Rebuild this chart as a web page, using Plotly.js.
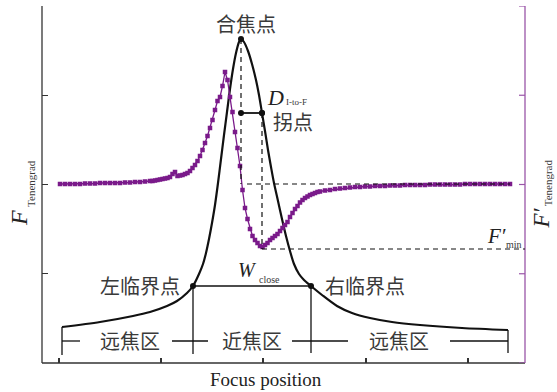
<!DOCTYPE html>
<html>
<head>
<meta charset="utf-8">
<script src="https://cdn.plot.ly/plotly-3.0.1.min.js"></script>
<style>html,body{margin:0;padding:0;background:#fff;}#chart{width:557px;height:392px;}</style>
</head>
<body>
<div id="chart"></div>
<script>
// ---- data (arbitrary units: focus position / sharpness value) ----
const xTicks = [17, 119, 221, 324, 426];
const yTicks = [0, 89.25, 178.5, 267.75, 357];

// Tenengrad sharpness curve F
const tenX = [20, 58, 91, 108, 125, 135, 145, 151, 157, 161, 164, 167, 170, 173, 176, 179, 182, 185, 188, 191, 194, 197, 199, 202, 206, 210, 214, 217, 220, 223, 226, 229, 232, 236, 240, 244, 248, 252, 257, 262, 269, 280, 295, 310, 328, 350, 378, 420, 466];
const tenY = [36, 41, 47, 51, 57, 62, 70, 77, 89, 99, 110, 124, 140, 158, 180, 204, 228, 251, 274, 294, 310, 321, 324, 321, 312, 299, 283, 268, 250, 232, 213, 196, 180, 162, 144, 127, 112, 99, 89, 83, 77, 68, 57, 50, 45, 41, 38, 35, 33];

// Derivative curve F'
const derX = [18,23,28,33,38,43,48,53,58,63,68,73,78,83,88,93,98,103,108,110.5,113,115.5,118,120.5,123,125.5,128,130.5,133,135.5,138,140.5,143,145.5,148,150.5,153,155.5,158,160.5,163,165.5,168,170.5,173,175.5,178,180.5,183,185.5,188,190.5,193,195.5,198,200.5,203,205.5,208,210.5,213,215.5,218,220.5,223,225.5,228,230.5,233,235.5,238,240.5,243,245.5,248,250.5,253,255.5,258,260.5,263,265.5,268,270.5,273,275.5,278,283,288,293,298,303,308,313,318,323,328,333,338,343,348,353,358,363,368,373,378,383,388,393,398,403,408,413,418,423,428,433,438,443,448,453,458,463,468];
const derY = [179,179,179,179,179,179.5,179.5,179.5,180,180,180,180,180,180.5,180.5,181,181,181.5,182,182,182.5,183,183.5,184,184.5,185,186,189,191,187,187.5,188,189,190,192,195,198,202,207,213,220,227,235,243,253,262,266,277,291,283,266,251,231,215,197,173,155,144,134,127,123,120,117,116,118,120,123,125,127,129,132,135,138,141,146,150,154,157,160.5,163,165,166.5,168,169,170,171,171.5,172.5,173,174,174.5,175,175.5,176,176,176.5,176.5,177,177,177,177.5,177.5,177.5,178,178,178,178,178,178.5,178.5,178.5,178.5,178.5,178.5,178.5,179,179,179,179,179,179,179,179,179,179];

// key points: left critical, focus, inflection, right critical
const keyNames = ['左临界点', '合焦点', '拐点', '右临界点'];
const keyX = [151, 199, 220, 269];
const keyY = [77, 324, 250, 77];
const zeroLevel = 179;     // F' = 0
const fMinLevel = 114;     // F'min
const zoneLabels = ['远焦区', '近焦区', '远焦区'];

// ---- styles ----
const black = '#111';
const axisCol = '#333';
const purple = '#7a1a8a';
const purpleAxis = '#9a55a8';
const cjk = '"Noto Sans CJK SC", "Noto Sans CJK JP", sans-serif';
const serif = '"Liberation Serif", "Times New Roman", serif';
const textCol = '#3a3a3a';

const [lcX, fX, iX, rcX] = keyX;
const [lcY, fY, iY, rcY] = keyY;
// D(I-to-F) segment ends: on the focus vertical and at the inflection point
const dSegX = [fX, iX];
const dSegY = [iY, iY];
const dash = {color: black, width: 1.2, dash: '5px,4px'};
const solid = {color: black, width: 1.3};
const bracketY = 22;
const tenEndL = tenX[0], tenEndR = tenX[tenX.length - 1];

const shapes = [
  // axis frame
  {type: 'line', xref: 'paper', yref: 'paper', x0: 0, x1: 0, y0: 0, y1: 1, line: {color: axisCol, width: 1.3}},
  {type: 'line', xref: 'paper', yref: 'paper', x0: 0, x1: 1, y0: 0, y1: 0, line: {color: axisCol, width: 1.3}},
  {type: 'line', xref: 'paper', yref: 'paper', x0: 1, x1: 1, y0: 0, y1: 1, line: {color: purpleAxis, width: 1.3}},
  // dashed guides
  {type: 'line', x0: fX, x1: fX, y0: fY, y1: zeroLevel, line: dash},
  {type: 'line', x0: 205, x1: tenEndR + 2, y0: zeroLevel, y1: zeroLevel, line: dash},
  {type: 'line', x0: iX, x1: iX, y0: iY, y1: fMinLevel, line: dash},
  {type: 'line', x0: iX, x1: 483, y0: fMinLevel, y1: fMinLevel, line: dash},
  // D segment
  {type: 'line', x0: dSegX[0], x1: dSegX[1], y0: dSegY[0], y1: dSegY[1], line: {color: black, width: 1.8}},
  // W close
  {type: 'line', x0: lcX, x1: rcX, y0: lcY, y1: rcY, line: solid},
  // zone boundaries
  {type: 'line', x0: lcX, x1: lcX, y0: lcY, y1: 9, line: solid},
  {type: 'line', x0: rcX, x1: rcX, y0: rcY, y1: 10, line: solid},
  {type: 'line', x0: tenEndL, x1: tenEndL, y0: tenY[0], y1: 8, line: solid},
  {type: 'line', x0: tenEndR, x1: tenEndR, y0: tenY[tenY.length - 1], y1: 10, line: solid},
  // zone segments
  {type: 'line', x0: tenEndL, x1: 38, y0: bracketY, y1: bracketY, line: solid},
  {type: 'line', x0: 130, x1: 166, y0: bracketY, y1: bracketY, line: solid},
  {type: 'line', x0: 250, x1: 306, y0: bracketY, y1: bracketY, line: solid},
  {type: 'line', x0: 408, x1: tenEndR, y0: bracketY, y1: bracketY, line: solid}
];
// right (purple) axis ticks, pointing inward
yTicks.forEach(function (t) {
  shapes.push({type: 'line', xref: 'paper', yref: 'y', x0: 1, x1: 1 - 6 / 483, y0: t, y1: t,
               line: {color: purpleAxis, width: 1.2}});
});

function ann(text, x, y, size, family, extra) {
  return Object.assign({text: text, x: x, y: y, xref: 'x', yref: 'y', showarrow: false,
    xanchor: 'center', yanchor: 'middle', font: {family: family, size: size, color: textCol}}, extra || {});
}
function pann(text, x, y, size, family, color, angle) {
  return {text: text, x: x, y: y, xref: 'paper', yref: 'paper', showarrow: false, textangle: angle || 0,
    xanchor: 'center', yanchor: 'middle', borderpad: 0, font: {family: family, size: size, color: color}};
}

const annotations = [
  ann(keyNames[1], 204, 339.5, 20, cjk),
  ann(keyNames[0], 98, 77.5, 20, cjk),
  ann(keyNames[3], 323, 77.5, 20, cjk),
  ann(keyNames[2], 251, 241.5, 20, cjk),
  ann(zoneLabels[0], 88, 23, 20, cjk),
  ann(zoneLabels[1], 210, 23, 20, cjk),
  ann(zoneLabels[2], 357, 23, 20, cjk),
  ann('<i>D</i>', 233, 266, 22, serif, {font: {family: serif, size: 22, color: '#222'}}),
  ann('I-to-F', 254, 261, 9, serif),
  ann('<i>W</i>', 205, 93, 20, serif, {font: {family: serif, size: 20, color: '#222'}}),
  ann('close', 227, 84, 10, serif),
  ann('<i>F′</i>', 454, 127, 21, serif, {font: {family: serif, size: 21, color: '#222'}}),
  ann('min', 472, 119, 10, serif),
  pann('<i>F</i>', -0.0476, 0.406, 24, serif, '#222', -90),
  pann('Tenengrad', -0.0217, 0.503, 11, serif, textCol, -90),
  pann('<i>F′</i>', 1.034, 0.406, 23, serif, '#222', -90),
  pann('Tenengrad', 1.048, 0.504, 11, serif, textCol, -90),
  pann('Focus position', 0.4638, -0.045, 19, serif, '#222', 0)
];

const traces = [
  {x: derX, y: derY, yaxis: 'y2', type: 'scatter', mode: 'lines+markers',
   line: {color: purple, width: 1.3},
   marker: {symbol: 'square', size: 4.5, color: purple}, hoverinfo: 'skip', cliponaxis: false},
  {x: tenX, y: tenY, type: 'scatter', mode: 'lines',
   line: {color: black, width: 2.2, shape: 'spline', smoothing: 0.8}, hoverinfo: 'skip', cliponaxis: false},
  {x: keyX, y: keyY, type: 'scatter', mode: 'markers',
   marker: {color: black, size: 6}, hoverinfo: 'skip', cliponaxis: false},
  {x: dSegX, y: dSegY, type: 'scatter', mode: 'markers',
   marker: {color: black, size: 6}, hoverinfo: 'skip', cliponaxis: false}
];

const layout = {
  width: 557, height: 392,
  margin: {l: 42, r: 32, t: 6, b: 29, pad: 0},
  paper_bgcolor: '#fff', plot_bgcolor: '#fff',
  showlegend: false,
  xaxis: {range: [0, 483], showgrid: false, zeroline: false, showline: false,
          ticks: 'inside', ticklen: 5, tickwidth: 1.2, tickcolor: axisCol, tickvals: xTicks, showticklabels: false, fixedrange: true},
  yaxis: {range: [0, 357], showgrid: false, zeroline: false, showline: false,
          ticks: 'inside', ticklen: 6, tickwidth: 1.2, tickcolor: axisCol, tickvals: yTicks, showticklabels: false, fixedrange: true},
  yaxis2: {range: [0, 357], overlaying: 'y', side: 'right', anchor: 'x', showgrid: false, zeroline: false, showline: false,
           ticks: '', tickvals: yTicks, showticklabels: false, fixedrange: true},
  shapes: shapes,
  annotations: annotations
};

Plotly.newPlot('chart', traces, layout, {staticPlot: true, displayModeBar: false});
</script>
</body>
</html>
